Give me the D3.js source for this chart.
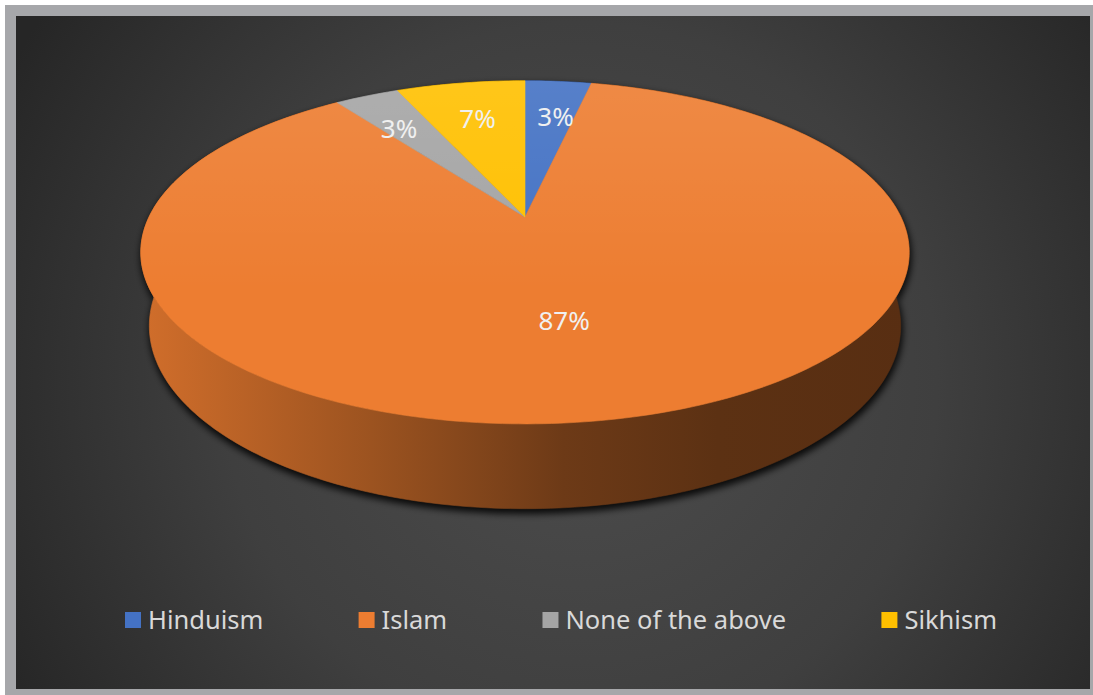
<!DOCTYPE html>
<html>
  <head>
    <meta charset="UTF-8">
    <title>Religion pie</title>
    <script src="https://cdn.jsdelivr.net/npm/d3@7"></script>
    <style>
      body, html { margin:0; padding:0; background:#fff; }
      text { font-family: "Noto Sans", sans-serif; }
    </style>
  </head>
  <body>
  <div id="chart"></div>
<script type="text/javascript">

  // data (shares in %, labels show them rounded)
  var categories = ['Hinduism', 'Islam', 'None of the above', 'Sikhism'];
  var shares     = [3.4, 86.7, 3.3, 6.6];
  var colours    = ['#4472c4', '#ed7d31', '#a5a5a5', '#ffc000'];

  var W = 1093, H = 695;

  // 3d view of the disc
  var cx = 525, cy = 217, S = 376, D = 4.37,
      tilt = Math.asin(0.437), thick = 0.218;
  var sinA = Math.sin(tilt), cosA = Math.cos(tilt);

  function proj(X, Y, Z) {
    var v = Y * cosA - Z * sinA,
        depth = D - (Z * cosA + Y * sinA);
    return [cx + S * X * D / depth, cy - S * v * D / depth];
  }
  // angle clockwise from the far side, seen from above
  function rim(a, r, y) {
    return proj(r * Math.sin(a), y, -r * Math.cos(a));
  }
  function arcPts(a0, a1, r, y) {
    var n = Math.max(2, Math.ceil((a1 - a0) / (Math.PI / 180)));
    return d3.range(n + 1).map(function(i) { return rim(a0 + (a1 - a0) * i / n, r, y); });
  }

  var colour = d3.scaleOrdinal().domain(categories).range(colours);
  var pie = d3.pie().sort(null).value(function(d) { return d.v; });
  var arcs = pie(categories.map(function(c, i) { return { name: c, v: shares[i] }; }));
  var line = d3.line();

  var svg = d3.select('#chart').append('svg').attr('width', W).attr('height', H);
  var defs = svg.append('defs');

  var bg = defs.append('radialGradient').attr('id', 'bg')
    .attr('gradientUnits', 'userSpaceOnUse')
    .attr('cx', 580).attr('cy', 380).attr('r', 650);
  bg.append('stop').attr('offset', '0%').attr('stop-color', '#4d4d4d');
  bg.append('stop').attr('offset', '55%').attr('stop-color', '#3f3f3f');
  bg.append('stop').attr('offset', '100%').attr('stop-color', '#262626');

  var blur = defs.append('filter').attr('id', 'shadow')
    .attr('x', '-10%').attr('y', '-10%').attr('width', '120%').attr('height', '130%');
  blur.append('feGaussianBlur').attr('stdDeviation', 3.5);

  var sheen = defs.append('linearGradient').attr('id', 'sheen')
    .attr('gradientUnits', 'userSpaceOnUse')
    .attr('x1', 0).attr('y1', 80).attr('x2', 0).attr('y2', 430);
  sheen.append('stop').attr('offset', '0%').attr('stop-color', '#fff').attr('stop-opacity', 0.1);
  sheen.append('stop').attr('offset', '60%').attr('stop-color', '#fff').attr('stop-opacity', 0);

  // side walls get darker from left to right
  var wallStops = [[0, 0.88], [0.3, 0.66], [0.55, 0.46], [0.75, 0.39], [1, 0.37]];
  arcs.forEach(function(d, i) {
    var g = defs.append('linearGradient').attr('id', 'wall' + i)
      .attr('gradientUnits', 'userSpaceOnUse')
      .attr('x1', 140).attr('y1', 0).attr('x2', 910).attr('y2', 0);
    var c = d3.rgb(colour(d.data.name));
    wallStops.forEach(function(s) {
      g.append('stop').attr('offset', s[0])
        .attr('stop-color', d3.rgb(c.r * s[1], c.g * s[1], c.b * s[1]).formatHex());
    });
  });

  // frame
  svg.append('rect').attr('x', 5).attr('y', 5).attr('width', W - 5).attr('height', H - 5).attr('fill', '#a6a7aa');
  svg.append('rect').attr('x', 16).attr('y', 16).attr('width', 1074).attr('height', 673).attr('fill', 'url(#bg)');

  function wallPath(d) {
    var top = arcPts(d.startAngle, d.endAngle, 1, 0),
        bot = arcPts(d.startAngle, d.endAngle, 1, -thick).reverse();
    return line(top.concat(bot)) + 'Z';
  }
  function topPath(d) {
    return line([proj(0, 0, 0)].concat(arcPts(d.startAngle, d.endAngle, 1, 0))) + 'Z';
  }

  // shadow under the disc
  svg.append('g').attr('filter', 'url(#shadow)').attr('transform', 'translate(1,4)')
    .selectAll('path').data(arcs).enter().append('path')
    .attr('d', wallPath).attr('fill', '#000').attr('fill-opacity', 0.85)
    .attr('stroke', '#000').attr('stroke-width', 2);

  svg.append('g').selectAll('path').data(arcs).enter().append('path')
    .attr('d', wallPath)
    .attr('fill', function(d, i) { return 'url(#wall' + i + ')'; })
    .attr('stroke', function(d, i) { return 'url(#wall' + i + ')'; })
    .attr('stroke-width', 0.6);

  var tops = svg.append('g');
  tops.selectAll('path.face').data(arcs).enter().append('path').attr('class', 'face')
    .attr('d', topPath)
    .attr('fill', function(d) { return colour(d.data.name); })
    .attr('stroke', function(d) { return colour(d.data.name); })
    .attr('stroke-width', 0.6);
  tops.selectAll('path.sheen').data(arcs).enter().append('path').attr('class', 'sheen')
    .attr('d', topPath).attr('fill', 'url(#sheen)');

  // data labels: big slice nearer the middle, thin ones nudged off the
  // edge that is closest to the 12 o'clock line
  svg.append('g').selectAll('text').data(arcs).enter().append('text')
    .attr('transform', function(d) {
      var mid = (d.startAngle + d.endAngle) / 2,
          small = d.data.v < 10,
          p = rim(mid, small ? 0.7 : 0.57, 0);
      if (small) p[0] += Math.sin(mid) > 0 ? 6 : (Math.cos(mid) > 0.9 ? 0 : -10);
      else p[0] -= 10;
      return 'translate(' + p[0] + ',' + p[1] + ')';
    })
    .attr('text-anchor', 'middle').attr('dy', '0.36em')
    .attr('font-size', 26).attr('fill', '#f0f0f0')
    .text(function(d) { return Math.round(d.data.v) + '%'; });

  // legend
  var legend = svg.append('g').attr('transform', 'translate(0,620)');
  var items = legend.selectAll('g').data(categories).enter().append('g');
  items.append('rect').attr('x', 0).attr('y', -8).attr('width', 16).attr('height', 16)
    .attr('fill', function(d) { return colour(d); });
  items.append('text').attr('x', 23).attr('y', 0).attr('dy', '0.36em')
    .attr('font-size', 25.5).attr('fill', '#d9d9d9')
    .text(function(d) { return d; });

  var widths = [];
  items.each(function() { widths.push(this.getBBox().width); });
  var x0 = 125, x1 = 997,
      gap = (x1 - x0 - d3.sum(widths)) / (widths.length - 1), x = x0;
  items.attr('transform', function(d, i) {
    var t = 'translate(' + x + ',0)';
    x += widths[i] + gap;
    return t;
  });

</script>
  </body>
</html>
